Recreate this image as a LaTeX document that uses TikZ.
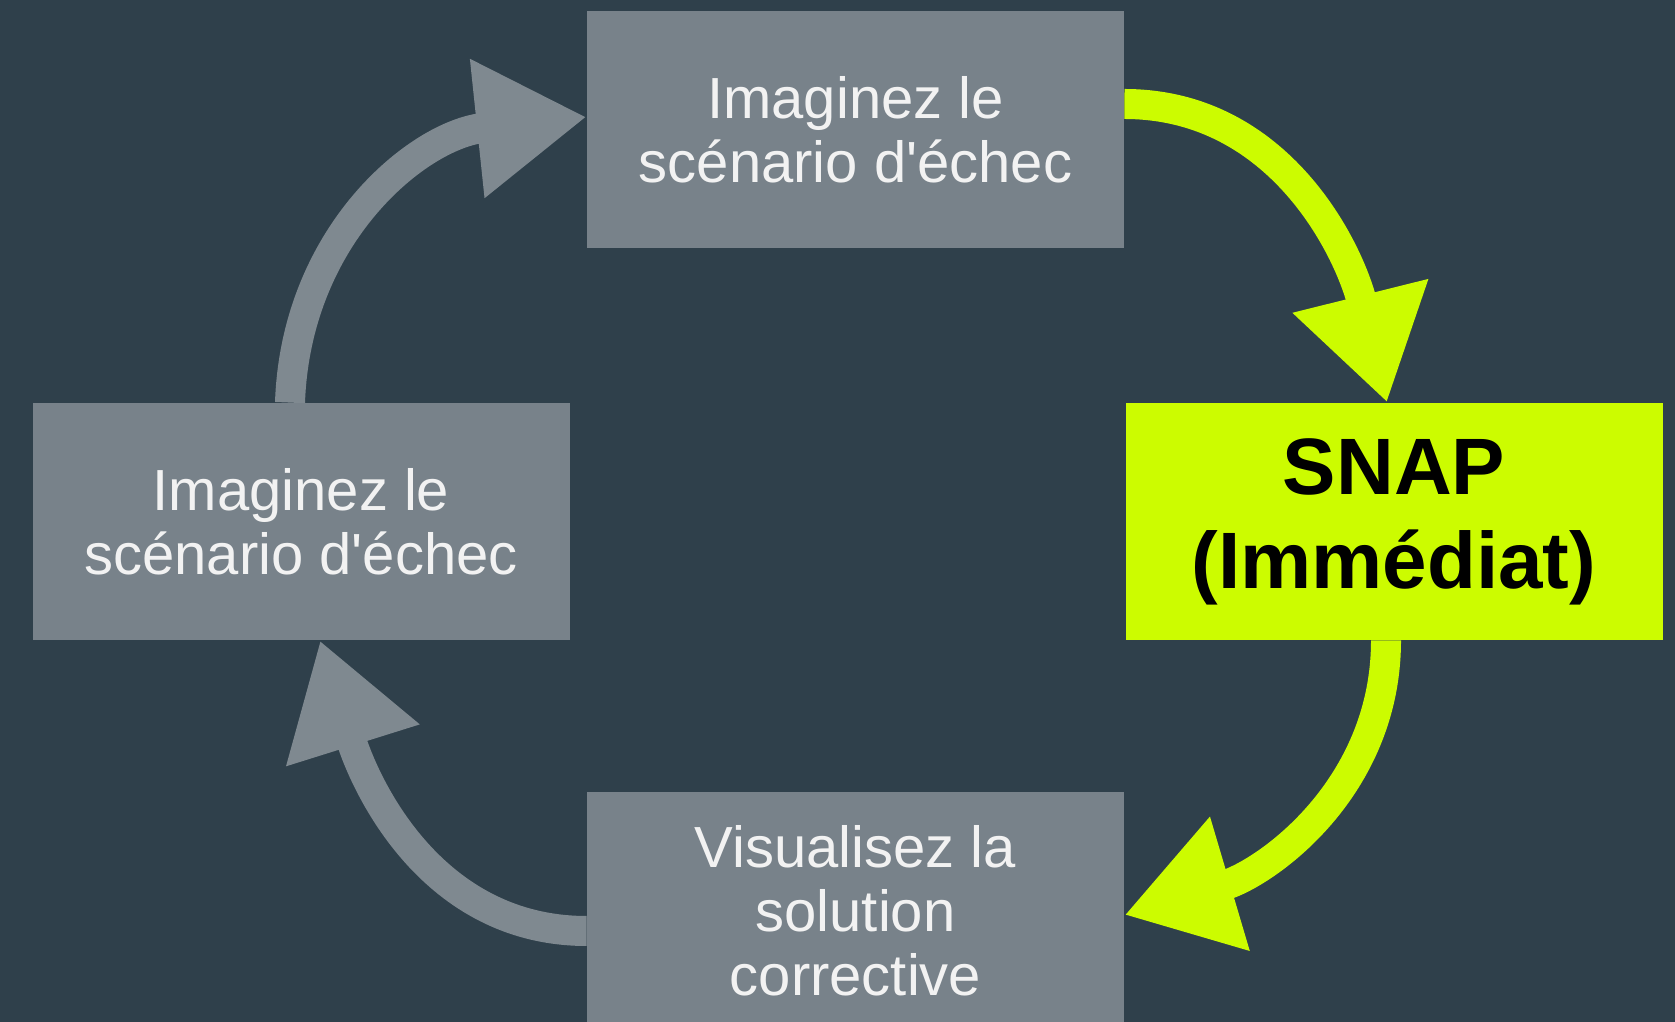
\documentclass[tikz,border=0pt]{standalone}
\usepackage{fontspec}
\setmainfont{Liberation Sans}
\usetikzlibrary{arrows.meta}
\definecolor{bgslate}{HTML}{2F404B}
\definecolor{boxgray}{HTML}{78828A}
\definecolor{arrowgray}{HTML}{7F8990}
\definecolor{snapgreen}{HTML}{CCFC00}
\definecolor{txtwhite}{HTML}{F2F2F2}

\begin{document}
\begin{tikzpicture}[x=0.5pt,y=0.5pt,
  etape/.style={rectangle,fill=boxgray,minimum width=268.5pt,minimum height=118.5pt,inner sep=0pt,align=center,text=txtwhite,font=\fontsize{29}{32}\selectfont},
  snapbox/.style={etape,fill=snapgreen,text=black,font=\fontsize{40}{47}\selectfont\bfseries},
  grisfleche/.style={line width=15pt,draw=arrowgray,-{Triangle[length=55pt,width=66pt]}},
  vertfleche/.style={grisfleche,draw=snapgreen}]
\useasboundingbox (0,0) rectangle (1675,1022);
\fill[bgslate] (0,0) rectangle (1675,1022);

\node[etape] (haut) at (855.5,892.5) {Imaginez le\\scénario d\textquotesingle échec};
\node[etape] (gauche) at (301,500.5) {Imaginez le\\scénario d\textquotesingle échec};
\node[snapbox] (snap) at (1394,500.5) {SNAP\\(Immédiat)};
\node[etape] (bas) at (855.5,111.5) {Visualisez la\\solution\\corrective};

\draw[grisfleche] ([xshift=-5.5pt]gauche.north) to[out=88,in=186,looseness=1.05] ([yshift=6.25pt]haut.west);
\draw[vertfleche] ([yshift=12.75pt]haut.east) to[out=0,in=104] ([xshift=-3.5pt]snap.north);
\draw[vertfleche] ([xshift=-4pt]snap.south) to[out=-90,in=16.5] ([yshift=-2.25pt]bas.east);
\draw[grisfleche] ([yshift=-10.25pt]bas.west) to[out=180,in=-72.6] ([xshift=9.5pt]gauche.south);
\end{tikzpicture}
\end{document}
